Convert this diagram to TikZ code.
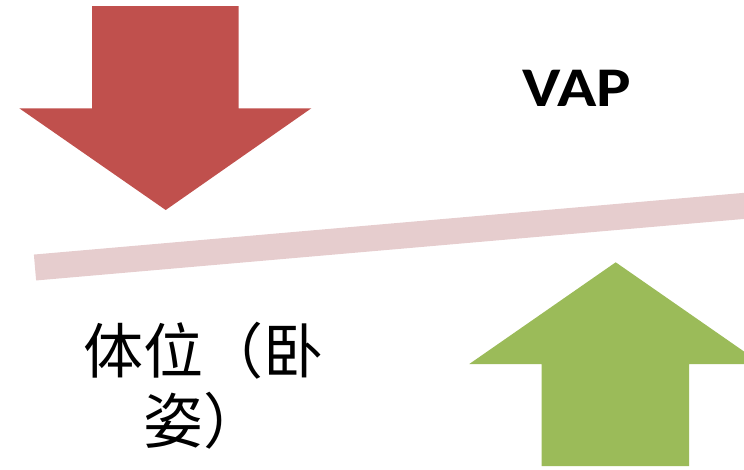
\documentclass[tikz,border=0pt]{standalone}
\usepackage{fontspec}
\setmainfont{Carlito}
\newfontfamily\cjk{Noto Sans CJK SC}
\definecolor{arrowred}{RGB}{192,80,77}
\definecolor{arrowgreen}{RGB}{155,187,89}
\definecolor{barpink}{RGB}{230,205,206}
\begin{document}
\begin{tikzpicture}[x=1pt,y=-1pt,
  redarrow/.style={fill=arrowred,draw=none},
  greenarrow/.style={fill=arrowgreen,draw=none},
  beam/.style={draw=barpink,line width=26pt,line cap=butt},
  label/.style={inner sep=0pt,align=center}]
\useasboundingbox (0,0) rectangle (744,469);
% red down arrow
\fill[redarrow] (92,6) -- (238.7,6) -- (238.7,108.3) -- (311.3,108.3) -- (165.7,210) -- (19.3,108.3) -- (92,108.3) -- cycle;
% pink beam
\coordinate (bl) at (35,267.5);
\coordinate (br) at (760,204.5);
\draw[beam] (bl) -- (br);
% green up arrow
\fill[greenarrow] (541.7,466) -- (541.7,364) -- (469.3,364) -- (615.7,262.3) -- (762,364) -- (689,364) -- (689,466) -- cycle;
% texts
\node[label,font=\bfseries\fontsize{56}{60}\selectfont] (vap) at (576.7,88) {\scalebox{1.16}[1]{VAP}};
\node[label,font=\cjk\fontsize{60}{70}\selectfont] (pos) at (203,386) {体位（卧\\姿）};
\end{tikzpicture}
\end{document}
